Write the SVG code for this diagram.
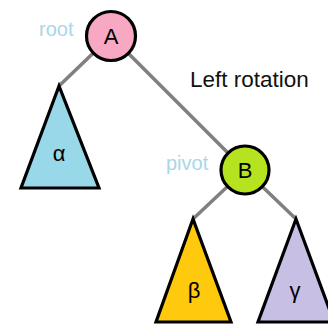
<svg xmlns="http://www.w3.org/2000/svg" width="328" height="325" viewBox="0 0 328 325">
<style>
.edge{stroke:#808080;stroke-width:3.5;fill:none}
.node{stroke:#000;stroke-width:3.2;stroke-linejoin:miter}
.lbl{font-family:"Liberation Sans",Arial,sans-serif;font-size:22px;fill:#000;text-anchor:middle}
.tag{font-family:"Liberation Sans",Arial,sans-serif;font-size:20px;fill:#a9d6e8}
</style>
<rect width="328" height="325" fill="#fff"/>
<g id="connectors">
<line class="edge" x1="111" y1="36" x2="59" y2="86"/>
<line class="edge" x1="111" y1="36" x2="245" y2="170"/>
<line class="edge" x1="245" y1="170" x2="193" y2="219"/>
<line class="edge" x1="245" y1="170" x2="296" y2="219"/>
</g>
<g id="nodeA">
<circle class="node" cx="111" cy="36" r="24.5" fill="#f9a8c4"/>
<text class="lbl" x="111" y="44">A</text>
</g>
<g id="rootLabel"><text class="tag" x="39" y="36">root</text></g>
<g id="alpha">
<polygon class="node" points="59,86 21,188 99,188" fill="#99d8e8"/>
<text class="lbl" x="59" y="161">α</text>
</g>
<g id="title"><text font-family="Liberation Sans,Arial,sans-serif" font-size="22.5" x="190" y="87" fill="#111">Left rotation</text></g>
<g id="nodeB">
<circle class="node" cx="245" cy="170" r="24" fill="#b5e31f"/>
<text class="lbl" x="245" y="178">B</text>
</g>
<g id="pivotLabel"><text class="tag" x="166" y="170">pivot</text></g>
<g id="beta">
<polygon class="node" points="193,219 156,322 231,322" fill="#ffc90e"/>
<text class="lbl" x="194" y="298">β</text>
</g>
<g id="gamma">
<polygon class="node" points="296,219 258,322 334,322" fill="#c8bfe4"/>
<text class="lbl" x="295" y="298">γ</text>
</g>
</svg>
